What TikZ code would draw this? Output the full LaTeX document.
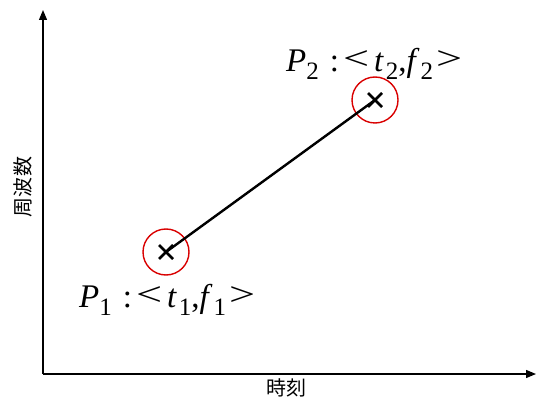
\documentclass[tikz,border=0pt]{standalone}
\usepackage{fontspec}
\usepackage{graphicx}
\setmainfont{Liberation Serif}
\newfontfamily\cjk{Noto Sans CJK JP}
\usetikzlibrary{arrows.meta}
\newcommand{\sbs}[1]{\raisebox{-8pt}{\fontsize{25}{25}\selectfont #1}}
\newcommand{\ltsym}{\raisebox{2pt}{\scalebox{1.4}[1]{<}}}
\newcommand{\gtsym}{\raisebox{2pt}{\scalebox{1.4}[1]{>}}}
\newcommand{\ptlabel}[1]{\textit{P}\sbs{#1}\hspace{11pt}:\hspace{4pt}\ltsym\hspace{5pt}\textit{t}\kern2pt\sbs{#1},\textit{f}\kern1pt\sbs{#1}\hspace{3pt}\gtsym}
\tikzset{
  axis/.style={line width=1.2pt,-{Triangle[length=10pt,width=8pt]}},
  ring/.style={draw=red!85!black,line width=1.4pt,circle,minimum size=46pt,inner sep=0pt},
  crossmark/.style={line width=2.6pt},
  link/.style={line width=2.4pt},
  lbl/.style={font=\fontsize{33}{33}\selectfont,inner sep=0pt,anchor=base west},
  axlbl/.style={font=\cjk\fontsize{20}{20}\selectfont,inner sep=0pt}
}
\begin{document}
\begin{tikzpicture}[x=1pt,y=1pt]
\useasboundingbox (0,0) rectangle (537,399);
\coordinate (O) at (43,25);
\coordinate (Y) at (43,389);
\coordinate (X) at (536,25);
\draw[axis] (O) -- (Y);
\draw[axis] (O) -- (X);
\node[ring] (c1) at (166,147) {};
\node[ring] (c2) at (375,299) {};
\draw[link] (c1.center) -- (c2.center);
\draw[crossmark] ([shift={(-7,-7)}]c1.center) -- ([shift={(7,7)}]c1.center);
\draw[crossmark] ([shift={(-7,7)}]c1.center) -- ([shift={(7,-7)}]c1.center);
\draw[crossmark] ([shift={(-7,-7)}]c2.center) -- ([shift={(7,7)}]c2.center);
\draw[crossmark] ([shift={(-7,7)}]c2.center) -- ([shift={(7,-7)}]c2.center);
\node[lbl] (l1) at (79,92) {\ptlabel{1}};
\node[lbl] (l2) at (286,327) {\ptlabel{2}};
\node[axlbl,rotate=90] (yl) at (23,212) {周波数};
\node[axlbl] (xl) at (286,11) {時刻};
\end{tikzpicture}
\end{document}
